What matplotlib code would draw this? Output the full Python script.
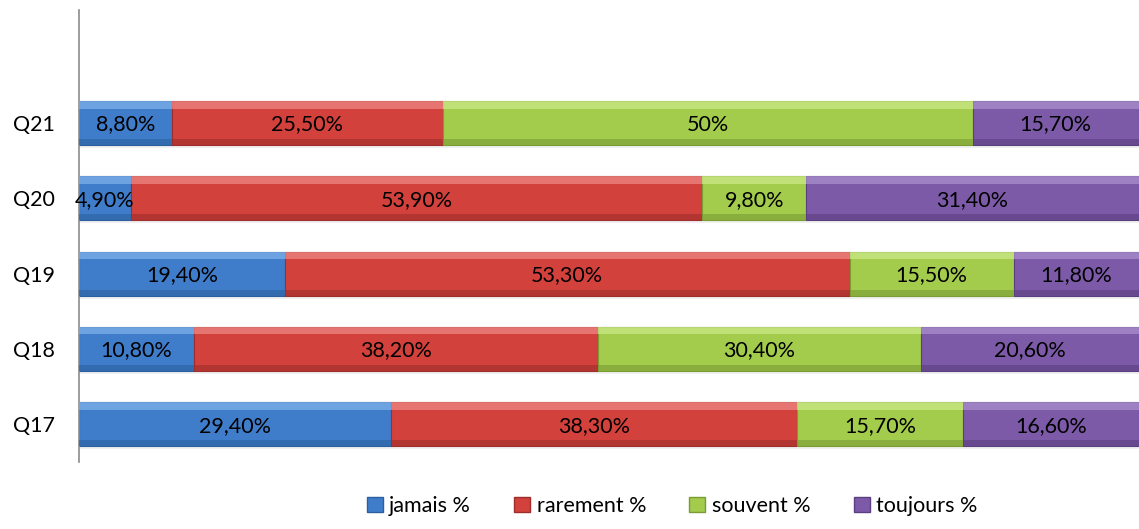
import numpy as np
import matplotlib.pyplot as plt
from matplotlib.patches import Patch

plt.rcParams['font.family'] = ['Lato', 'DejaVu Sans']

questions = ['Q17', 'Q18', 'Q19', 'Q20', 'Q21']
series = ['jamais %', 'rarement %', 'souvent %', 'toujours %']
jamais = [29.4, 10.8, 19.4, 4.9, 8.8]
rarement = [38.3, 38.2, 53.3, 53.9, 25.5]
souvent = [15.7, 30.4, 15.5, 9.8, 50.0]
toujours = [16.6, 20.6, 11.8, 31.4, 15.7]

colors = ['#3f7dcb', '#d2413c', '#a3cb4c', '#7c5aa8']
dark = ['#2c5f9e', '#9e2e2b', '#7a9c33', '#5b3f80']
light = ['#7fb0ea', '#ee8683', '#cbe887', '#a98fcc']


def fmt(v):
    if float(v).is_integer():
        return '%d%%' % v
    return ('%.2f%%' % v).replace('.', ',')


fig = plt.figure(figsize=(11.39, 5.29), dpi=100)
ax = fig.add_axes([0.0694, 0.1267, 0.9306, 0.8543])

y = np.arange(len(questions))
h = 0.585
left = np.zeros(len(questions))
for vals, c, d, l, name in zip([jamais, rarement, souvent, toujours],
                               colors, dark, light, series):
    vals = np.array(vals)
    # soft shadow under each bar
    ax.barh(y - 0.04, vals, height=h, left=left, color='#000000',
            alpha=0.06, linewidth=0, zorder=1)
    ax.barh(y, vals, height=h, left=left, color=c, edgecolor=d,
            linewidth=0.8, zorder=2, label=name)
    # bevel: light strip on top, dark strip on bottom
    ax.barh(y + h / 2 - 0.05, vals, height=0.1, left=left, color=l,
            alpha=0.75, linewidth=0, zorder=3)
    ax.barh(y - h / 2 + 0.04, vals, height=0.08, left=left, color=d,
            alpha=0.6, linewidth=0, zorder=3)
    for yi, li, v in zip(y, left, vals):
        ax.text(li + v / 2, yi - 0.02, fmt(v), ha='center', va='center',
                fontsize=15.5, color='black', zorder=5)
    left += vals

ax.set_xlim(0, 100)
ax.set_ylim(-0.5, 5.5)
ax.set_yticks(y)
ax.set_yticklabels(questions, fontsize=15.5)
ax.tick_params(axis='y', length=0, pad=26)
for t in ax.get_yticklabels():
    t.set_horizontalalignment('left')
ax.set_xticks([])
for s in ['top', 'right', 'bottom']:
    ax.spines[s].set_visible(False)
ax.spines['left'].set_color('#8c8c8c')
ax.spines['left'].set_linewidth(1.2)

# y tick labels start near the left edge of the figure
for t in ax.get_yticklabels():
    t.set_x(-0.062)
ax.yaxis.set_tick_params(pad=0)

handles = [Patch(facecolor=c, edgecolor=d) for c, d in zip(colors, dark)]
fig.legend(handles, series, loc='lower center', bbox_to_anchor=(0.59, -0.012),
           ncol=4, frameon=False, fontsize=15.5, handlelength=0.75,
           handleheight=0.75, handletextpad=0.3, columnspacing=2.0)

fig.savefig('out.png', dpi=100)
